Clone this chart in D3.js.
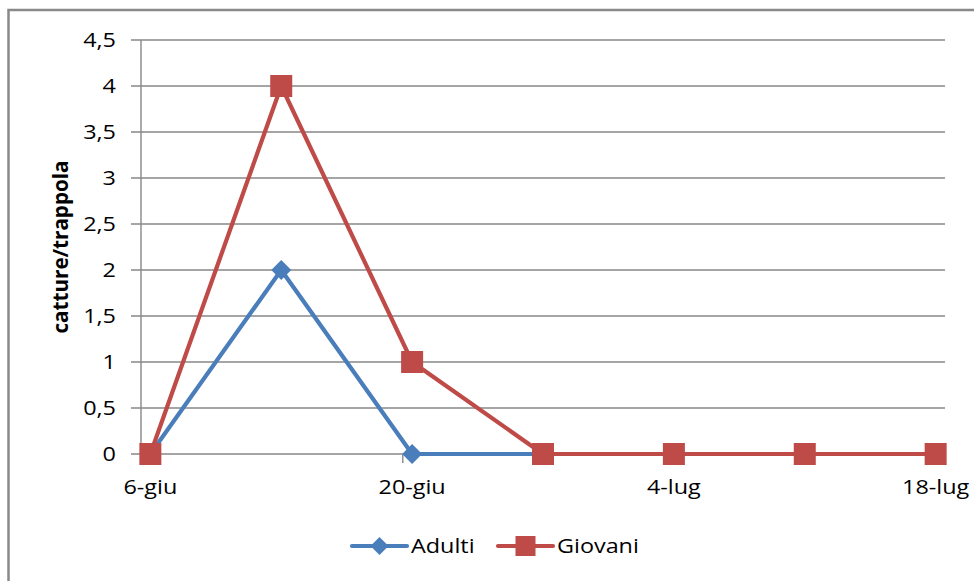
<!DOCTYPE html>
<html><head><meta charset="utf-8">
<script src="https://cdn.jsdelivr.net/npm/d3@7"></script>
<style>body{margin:0;background:#fff}svg{display:block}text{font-family:"Open Sans","Noto Sans",sans-serif;fill:#000}</style>
</head><body>
<svg id="c" width="974" height="581"></svg>
<script>
// Data
const dates = ["2011-06-06","2011-06-13","2011-06-20","2011-06-27","2011-07-04","2011-07-11","2011-07-18"];
const adulti = [0, 2, 0, 0, 0, 0, 0];
const giovani = [0, 4, 1, 0, 0, 0, 0];
const xTickDates = ["2011-06-06","2011-06-20","2011-07-04","2011-07-18"];
const xTickLabels = ["6-giu","20-giu","4-lug","18-lug"];
const yTicks = [0,0.5,1,1.5,2,2.5,3,3.5,4,4.5];
const seriesNames = ["Adulti","Giovani"];
const yTitle = "catture/trappola";

const svg = d3.select("#c");
const parse = d3.timeParse("%Y-%m-%d");
const DAY = 864e5;
const start = parse(dates[0]);
const end = new Date(+parse(dates[dates.length-1]) + DAY);
const x = d3.scaleTime().domain([start, end]).range([141, 945]);
const mid = d => new Date(+parse(d) + DAY/2);
const y = d3.scaleLinear().domain([0,4.5]).range([454,40]);
const grid = "#878787";
const SX = 1.2, FS = 19.5;

// outer border
svg.append("rect").attr("x",8.5).attr("y",10).attr("width",1000).attr("height",600)
  .attr("fill","none").attr("stroke","#898989").attr("stroke-width",2.5);

// gridlines
svg.append("g").selectAll("line").data(yTicks).join("line")
  .attr("x1",131).attr("x2",945).attr("y1",d=>y(d)).attr("y2",d=>y(d))
  .attr("stroke",grid).attr("stroke-width",1.4);
// y axis line
svg.append("line").attr("x1",141).attr("x2",141).attr("y1",y(4.5)).attr("y2",y(0)+9)
  .attr("stroke",grid).attr("stroke-width",1.4);
// x ticks
svg.append("g").selectAll("line").data(xTickDates).join("line")
  .attr("x1",d=>x(parse(d))).attr("x2",d=>x(parse(d))).attr("y1",y(0)).attr("y2",y(0)+9)
  .attr("stroke",grid).attr("stroke-width",1.4);
// y labels
const fmt = d => String(d).replace(".", ",");
svg.append("g").selectAll("text").data(yTicks).join("text")
  .attr("transform",d=>`translate(116,${y(d)}) scale(${SX},1)`).attr("dy","0.36em").attr("text-anchor","end")
  .attr("font-size",FS).text(fmt);
// x labels
svg.append("g").selectAll("text").data(xTickDates).join("text")
  .attr("transform",d=>`translate(${x(mid(d))},494) scale(${SX},1)`).attr("text-anchor","middle")
  .attr("font-size",FS).text((d,i)=>xTickLabels[i]);
// y title
svg.append("text").attr("transform","translate(68,247) rotate(-90) scale(1,1.1)")
  .attr("text-anchor","middle").attr("font-size",19).attr("font-weight","bold")
  .attr("textLength",173).attr("lengthAdjust","spacingAndGlyphs").text(yTitle);

const colors = ["#4A7EBB","#BE4B48"];
const line = d3.line().x((d,i)=>x(mid(dates[i]))).y(d=>y(d));
const diamond = s => `M0,${-s}L${s},0L0,${s}L${-s},0Z`;

[adulti, giovani].forEach((vals, k) => {
  svg.append("path").datum(vals).attr("d", line).attr("fill","none")
    .attr("stroke", colors[k]).attr("stroke-width",4.2).attr("stroke-linejoin","round");
  const g = svg.append("g");
  vals.forEach((v,i) => {
    const cx = x(mid(dates[i])), cy = y(v);
    if (k===0) g.append("path").attr("d",diamond(10)).attr("transform",`translate(${cx},${cy})`).attr("fill",colors[k]);
    else g.append("rect").attr("x",cx-11).attr("y",cy-11).attr("width",22).attr("height",22).attr("fill",colors[k]);
  });
});

// legend
const leg = [{x:352, name:seriesNames[0]}, {x:498, name:seriesNames[1]}];
leg.forEach((l,k) => {
  const g = svg.append("g");
  g.append("line").attr("x1",l.x).attr("x2",l.x+55).attr("y1",546).attr("y2",546)
    .attr("stroke",colors[k]).attr("stroke-width",4.2).attr("stroke-linecap","round");
  if (k===0) g.append("path").attr("d",diamond(9)).attr("transform",`translate(${l.x+27.5},546)`).attr("fill",colors[k]);
  else g.append("rect").attr("x",l.x+27.5-10).attr("y",536).attr("width",20).attr("height",20).attr("fill",colors[k]);
  g.append("text").attr("transform",`translate(${l.x+59},546) scale(${SX},1)`).attr("dy","0.36em").attr("font-size",FS).text(l.name);
});
</script>
</body></html>
